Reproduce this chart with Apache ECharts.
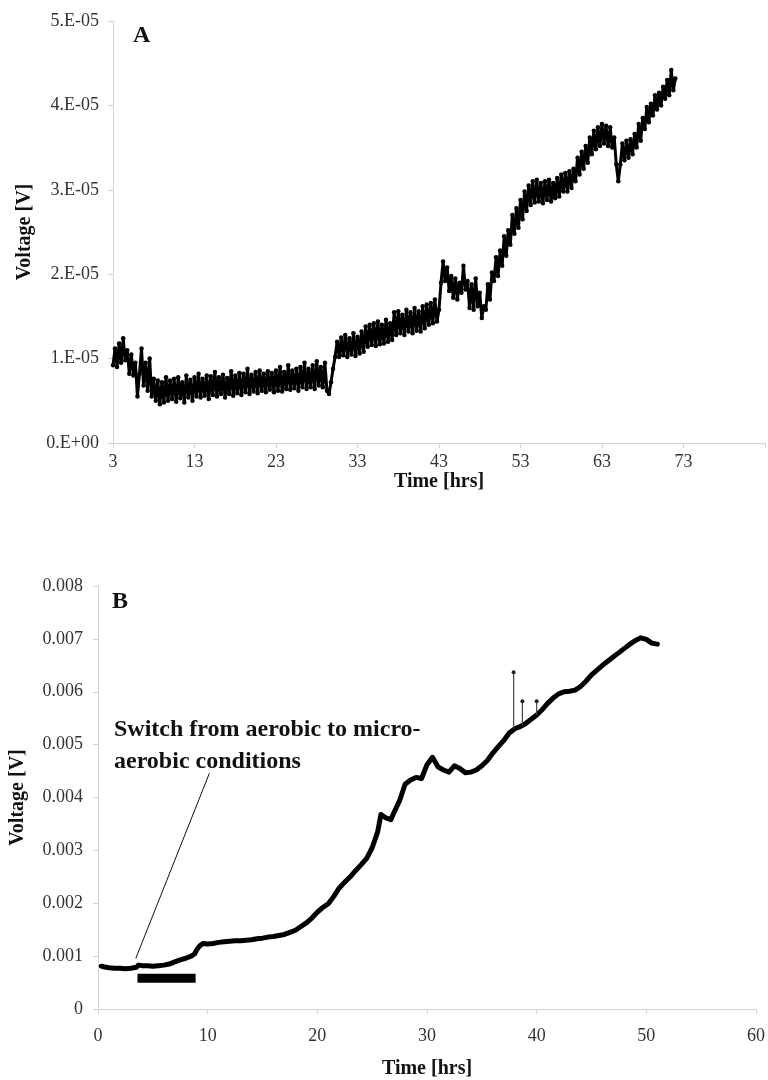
<!DOCTYPE html>
<html><head><meta charset="utf-8">
<script src="https://cdn.jsdelivr.net/npm/echarts@6/dist/echarts.min.js"></script>
<style>html,body{margin:0;padding:0;background:#fff}#c{width:768px;height:1080px}</style>
</head><body><div id="c"></div>
<script>
// Panel A: [time hrs, voltage in units of 1e-5 V]
const pointsA = [
[3.00,0.92],[3.25,1.12],[3.50,0.90],[3.75,1.18],[4.00,0.95],[4.25,1.24],[4.50,0.98],[4.75,1.10],[5.00,0.82],[5.25,1.05],
[5.50,0.80],[5.75,0.95],[6.00,0.55],[6.25,0.82],[6.50,1.12],[6.75,0.68],[7.00,0.95],[7.25,0.62],[7.50,1.00],[7.75,0.55],
[8.00,0.76],[8.25,0.50],[8.50,0.74],[8.75,0.46],[9.00,0.72],[9.25,0.48],[9.50,0.78],[9.75,0.50],[10.00,0.74],[10.25,0.52],
[10.50,0.76],[10.75,0.49],[11.00,0.78],[11.25,0.53],[11.50,0.72],[11.75,0.48],[12.00,0.80],[12.25,0.54],[12.50,0.75],[12.75,0.50],
[13.00,0.78],[13.25,0.55],[13.50,0.82],[13.75,0.54],[14.00,0.76],[14.25,0.56],[14.50,0.80],[14.75,0.52],[15.00,0.79],[15.25,0.57],
[15.50,0.84],[15.75,0.55],[16.00,0.78],[16.25,0.58],[16.50,0.81],[16.75,0.54],[17.00,0.77],[17.25,0.58],[17.50,0.85],[17.75,0.56],
[18.00,0.80],[18.25,0.59],[18.50,0.83],[18.75,0.57],[19.00,0.82],[19.25,0.60],[19.50,0.88],[19.75,0.58],[20.00,0.81],[20.25,0.61],
[20.50,0.84],[20.75,0.59],[21.00,0.86],[21.25,0.62],[21.50,0.82],[21.75,0.60],[22.00,0.85],[22.25,0.63],[22.50,0.83],[22.75,0.60],
[23.00,0.86],[23.25,0.62],[23.50,0.90],[23.75,0.61],[24.00,0.84],[24.25,0.64],[24.50,0.92],[24.75,0.63],[25.00,0.86],[25.25,0.65],
[25.50,0.88],[25.75,0.62],[26.00,0.90],[26.25,0.66],[26.50,0.95],[26.75,0.64],[27.00,0.88],[27.25,0.66],[27.50,0.92],[27.75,0.64],
[28.00,0.97],[28.25,0.68],[28.50,0.90],[28.75,0.66],[29.00,0.95],[29.25,0.62],[29.50,0.58],[29.75,0.72],[30.00,0.88],[30.25,1.02],
[30.50,1.20],[30.75,1.02],[31.00,1.25],[31.25,1.04],[31.50,1.28],[31.75,1.02],[32.00,1.24],[32.25,1.05],[32.50,1.30],[32.75,1.03],
[33.00,1.26],[33.25,1.06],[33.50,1.32],[33.75,1.08],[34.00,1.38],[34.25,1.14],[34.50,1.40],[34.75,1.16],[35.00,1.42],[35.25,1.15],
[35.50,1.44],[35.75,1.17],[36.00,1.40],[36.25,1.18],[36.50,1.46],[36.75,1.20],[37.00,1.42],[37.25,1.22],[37.50,1.55],[37.75,1.28],
[38.00,1.56],[38.25,1.30],[38.50,1.52],[38.75,1.28],[39.00,1.58],[39.25,1.32],[39.50,1.55],[39.75,1.30],[40.00,1.60],[40.25,1.33],
[40.50,1.56],[40.75,1.32],[41.00,1.62],[41.25,1.36],[41.50,1.64],[41.75,1.40],[42.00,1.66],[42.25,1.42],[42.50,1.70],[42.75,1.44],
[43.00,1.58],[43.25,1.90],[43.50,2.15],[43.75,1.92],[44.00,2.08],[44.25,1.80],[44.50,1.98],[44.75,1.72],[45.00,1.95],[45.25,1.70],
[45.50,1.90],[45.75,1.78],[46.00,2.10],[46.25,1.82],[46.50,1.92],[46.75,1.60],[47.00,1.88],[47.25,1.58],[47.50,1.95],[47.75,1.62],
[48.00,1.78],[48.25,1.48],[48.50,1.62],[48.75,1.58],[49.00,1.88],[49.25,1.70],[49.50,2.02],[49.75,1.92],[50.00,2.20],[50.25,1.98],
[50.50,2.28],[50.75,2.10],[51.00,2.45],[51.25,2.22],[51.50,2.52],[51.75,2.35],[52.00,2.70],[52.25,2.48],[52.50,2.78],[52.75,2.55],
[53.00,2.88],[53.25,2.65],[53.50,2.98],[53.75,2.75],[54.00,3.05],[54.25,2.82],[54.50,3.10],[54.75,2.85],[55.00,3.12],[55.25,2.86],
[55.50,3.08],[55.75,2.84],[56.00,3.10],[56.25,2.88],[56.50,3.12],[56.75,2.86],[57.00,3.08],[57.25,2.90],[57.50,3.14],[57.75,2.92],
[58.00,3.18],[58.25,2.98],[58.50,3.20],[58.75,2.98],[59.00,3.22],[59.25,3.02],[59.50,3.25],[59.75,3.10],[60.00,3.38],[60.25,3.18],
[60.50,3.45],[60.75,3.25],[61.00,3.52],[61.25,3.32],[61.50,3.62],[61.75,3.42],[62.00,3.70],[62.25,3.48],[62.50,3.74],[62.75,3.52],
[63.00,3.78],[63.25,3.55],[63.50,3.76],[63.75,3.52],[64.00,3.74],[64.25,3.50],[64.50,3.62],[64.75,3.30],[65.00,3.10],[65.25,3.30],
[65.50,3.55],[65.75,3.35],[66.00,3.58],[66.25,3.38],[66.50,3.60],[66.75,3.42],[67.00,3.66],[67.25,3.50],[67.50,3.78],[67.75,3.58],
[68.00,3.85],[68.25,3.72],[68.50,3.98],[68.75,3.80],[69.00,4.02],[69.25,3.88],[69.50,4.12],[69.75,3.95],[70.00,4.15],[70.25,4.00],
[70.50,4.22],[70.75,4.08],[71.00,4.30],[71.25,4.12],[71.50,4.42],[71.75,4.18],[72.00,4.32]
];
const xLabelsA = [3,13,23,33,43,53,63,73];
const xTicksA = [3,13,23,33,43,53,63,73,83];
const yLabelsA = ['0.E+00','1.E-05','2.E-05','3.E-05','4.E-05','5.E-05'];

// Panel B: [time hrs, voltage V]
const pointsB = [
[0.3,0.00081],[0.5,0.00080],[1.0,0.00078],[1.5,0.00077],[2.0,0.00077],[2.5,0.00076],[3.0,0.00077],[3.5,0.00079],[3.7,0.00083],[4.0,0.00082],
[4.5,0.00082],[5.0,0.00081],[5.5,0.00082],[6.0,0.00083],[6.5,0.00085],[7.0,0.00089],[7.5,0.00093],[8.0,0.00096],[8.5,0.00100],[8.8,0.00104],
[9.0,0.00112],[9.3,0.00120],[9.6,0.00124],[10.0,0.00123],[10.5,0.00124],[11.0,0.00126],[11.5,0.00127],[12.0,0.00128],[12.5,0.00129],[13.0,0.00129],
[13.5,0.00130],[14.0,0.00131],[14.5,0.00133],[15.0,0.00134],[15.5,0.00136],[16.0,0.00137],[16.5,0.00139],[17.0,0.00141],[17.5,0.00145],[18.0,0.00149],
[18.5,0.00156],[19.0,0.00163],[19.5,0.00172],[20.0,0.00183],[20.5,0.00192],[21.0,0.00199],[21.5,0.00213],[22.0,0.00229],[22.5,0.00240],[23.0,0.00250],
[23.5,0.00262],[24.0,0.00273],[24.5,0.00285],[25.0,0.00305],[25.5,0.00335],[25.8,0.00368],[26.2,0.00362],[26.7,0.00358],[27.0,0.00372],[27.5,0.00394],
[28.0,0.00425],[28.5,0.00433],[29.0,0.00438],[29.5,0.00436],[30.0,0.00462],[30.5,0.00476],[31.0,0.00458],[31.5,0.00452],[32.0,0.00448],[32.5,0.00460],
[33.0,0.00455],[33.5,0.00447],[34.0,0.00448],[34.5,0.00452],[35.0,0.00460],[35.5,0.00470],[36.0,0.00484],[36.5,0.00496],[37.0,0.00508],[37.5,0.00522],
[38.0,0.00530],[38.5,0.00534],[39.0,0.00540],[39.5,0.00548],[40.0,0.00556],[40.5,0.00566],[41.0,0.00578],[41.5,0.00588],[42.0,0.00596],[42.5,0.00600],
[43.0,0.00601],[43.5,0.00603],[44.0,0.00610],[44.5,0.00620],[45.0,0.00632],[45.5,0.00641],[46.0,0.00650],[46.5,0.00658],[47.0,0.00666],[47.5,0.00674],
[48.0,0.00682],[48.5,0.00690],[49.0,0.00697],[49.5,0.00702],[50.0,0.00699],[50.5,0.00692],[51.0,0.00690]
];
// isolated spikes: [time, base, peak]
const spikesB = [[37.9,0.00530,0.00637],[38.7,0.00536,0.00582],[40.0,0.00556,0.00582]];
const yLabelsB = ['0','0.001','0.002','0.003','0.004','0.005','0.006','0.007','0.008'];
// annotation: switch period bar and leader line (data coords)
const switchBar = [[3.6,0.00058],[8.9,0.00058]];
const leaderLine = [[3.45,0.00096],[10.16,0.00446]];

const FONT = 'Liberation Serif';
const labelStyle = {fontFamily: FONT, fontSize: 18, color: '#333'};
const nameStyle = {fontFamily: FONT, fontSize: 20, fontWeight: 'bold', color: '#111'};
const axisLine = {show: true, lineStyle: {color: '#d4d4d4', width: 1}};
const axisTick = {show: true, inside: false, length: 5, lineStyle: {color: '#d4d4d4'}};

const chart = echarts.init(document.getElementById('c'), null, {renderer: 'canvas'});

const spikeSeries = spikesB.map(s => ({
  type: 'line', xAxisIndex: 1, yAxisIndex: 1,
  data: [[s[0], s[1]], [s[0], s[2]]],
  symbol: 'circle',
  symbolSize: (val, params) => params.dataIndex === 1 ? 4 : 0,
  showSymbol: true,
  lineStyle: {color: '#444', width: 1.2},
  itemStyle: {color: '#222'}
}));

chart.setOption({
  animation: false,
  backgroundColor: '#fff',
  grid: [
    {left: 113, right: 3, top: 21, bottom: 637, containLabel: false},
    {left: 96, right: 11, top: 586, bottom: 71, containLabel: false}
  ],
  xAxis: [
    {gridIndex: 0, type: 'value', min: 3, max: 83,
     name: 'Time [hrs]', nameLocation: 'middle', nameGap: 28, nameTextStyle: nameStyle,
     axisLine, axisTick: Object.assign({}, axisTick, {customValues: xTicksA}),
     axisLabel: Object.assign({}, labelStyle, {margin: 10, customValues: xLabelsA}),
     splitLine: {show: false}},
    {gridIndex: 1, type: 'value', min: 0, max: 60, interval: 10,
     name: 'Time [hrs]', nameLocation: 'middle', nameGap: 50, nameTextStyle: nameStyle,
     axisLine, axisTick,
     axisLabel: Object.assign({}, labelStyle, {margin: 18}),
     splitLine: {show: false}}
  ],
  yAxis: [
    {gridIndex: 0, type: 'value', min: 0, max: 5e-5, interval: 1e-5,
     name: 'Voltage [V]', nameLocation: 'middle', nameGap: 78, nameTextStyle: nameStyle,
     axisLine, axisTick,
     axisLabel: Object.assign({}, labelStyle, {margin: 14, formatter: v => yLabelsA[Math.round(v / 1e-5)]}),
     splitLine: {show: false}},
    {gridIndex: 1, type: 'value', min: 0, max: 0.008, interval: 0.001,
     name: 'Voltage [V]', nameLocation: 'middle', nameGap: 70, nameTextStyle: nameStyle,
     axisLine, axisTick,
     axisLabel: Object.assign({}, labelStyle, {margin: 15, formatter: v => yLabelsB[Math.round(v / 0.001)]}),
     splitLine: {show: false}}
  ],
  series: [
    {type: 'line', xAxisIndex: 0, yAxisIndex: 0,
     data: pointsA.map(p => [p[0], p[1] * 1e-5]),
     symbol: 'circle', symbolSize: 4.5, showSymbol: true,
     lineStyle: {color: '#000', width: 3, join: 'round'}, itemStyle: {color: '#000'}},
    {type: 'line', xAxisIndex: 1, yAxisIndex: 1,
     data: pointsB, symbol: 'none',
     lineStyle: {color: '#000', width: 5, join: 'round', cap: 'round'}},
    ...spikeSeries,
    {type: 'line', xAxisIndex: 1, yAxisIndex: 1, data: switchBar, symbol: 'none',
     lineStyle: {color: '#000', width: 9, cap: 'butt'}},
    {type: 'line', xAxisIndex: 1, yAxisIndex: 1, data: leaderLine, symbol: 'none',
     lineStyle: {color: '#111', width: 1}}
  ],
  graphic: [
    {type: 'text', left: 133, top: 24, style: {text: 'A', font: 'bold 24px "Liberation Serif"', fill: '#111'}},
    {type: 'text', left: 112, top: 590, style: {text: 'B', font: 'bold 24px "Liberation Serif"', fill: '#111'}},
    {type: 'text', left: 114, top: 714,
     style: {text: 'Switch from aerobic to micro-\naerobic conditions', font: 'bold 24px "Liberation Serif"', lineHeight: 32, fill: '#111'}}
  ]
});
</script></body></html>
